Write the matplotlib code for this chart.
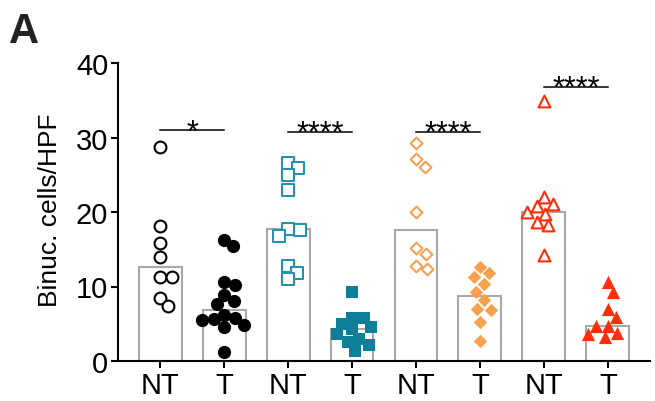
import numpy as np
import matplotlib
matplotlib.use("Agg")
import matplotlib.pyplot as plt

plt.rcParams['font.family'] = ['Liberation Sans', 'DejaVu Sans']

# ===== DATA =====
tick_labels = ["NT", "T", "NT", "T", "NT", "T", "NT", "T"]

g1_nt = [28.7, 18.1, 15.9, 14.0, 11.3, 11.3, 8.5, 7.4]
g1_t = [16.3, 15.4, 10.6, 10.2, 8.8, 8.1, 7.6, 6.2, 5.8, 5.6, 5.5, 4.8, 4.6, 1.2]
g2_nt = [26.6, 25.9, 24.9, 23.0, 17.75, 17.6, 16.75, 12.8, 11.85, 10.95]
g2_t = [9.3, 5.8, 5.8, 5.0, 4.6, 4.25, 3.6, 3.0, 2.6, 2.2, 1.4]
g3_nt = [29.2, 27.1, 26.1, 20.0, 15.2, 14.4, 12.7, 12.4]
g3_t = [12.65, 11.75, 11.3, 10.4, 9.25, 8.2, 7.0, 6.9, 5.2, 2.7]
g4_nt = [34.9, 22.0, 21.1, 20.8, 20.0, 19.75, 18.6, 18.2, 14.2]
g4_t = [10.6, 9.2, 7.0, 5.9, 4.7, 4.7, 3.8, 3.6, 3.2]

groups = [g1_nt, g1_t, g2_nt, g2_t, g3_nt, g3_t, g4_nt, g4_t]

sig_pairs = [(0, 1), (2, 3), (4, 5), (6, 7)]
sig_y = [31.0, 30.8, 30.8, 36.8]
sig_text = ["*", "****", "****", "****"]

# ===== STYLE =====
colors = ["black", "black", "#2493AD", "#0E7F99",
          "#F9A04E", "#F9A04E", "#FF2D0A", "#FF2D0A"]
markers = ["o", "o", "s", "s", "D", "D", "^", "^"]
sizes = [8.5, 9.5, 8.0, 9.0, 6.0, 6.8, 8.5, 9.5]
filled = [False, True, False, True, False, True, False, True]


def swarm_offsets(values, ax, diam_px):
    # simple beeswarm in pixel space, returned in data units
    vals = np.asarray(values, dtype=float)
    ys = ax.transData.transform(np.column_stack([np.zeros(len(vals)), vals]))[:, 1]
    px_per_unit = ax.transData.transform((1, 0))[0] - ax.transData.transform((0, 0))[0]
    xs = np.zeros(len(vals))
    placed = []
    for i in np.argsort(-ys):
        y = ys[i]
        cands = [0.0]
        for px, py in placed:
            dy = y - py
            if abs(dy) < diam_px:
                dx = np.sqrt(diam_px ** 2 - dy ** 2)
                cands += [px + dx, px - dx]
        cands.sort(key=abs)
        for c in cands:
            if all((c - px) ** 2 + (y - py) ** 2 >= diam_px ** 2 - 1e-6 for px, py in placed):
                xs[i] = c
                break
        placed.append((xs[i], y))
    return xs / px_per_unit


fig = plt.figure(figsize=(6.55, 4.02), dpi=100)
ax = fig.add_axes([118 / 655, 40 / 402, (650 - 118) / 655, (362 - 64) / 402])
ax.set_xlim(-0.66, 7.66)
ax.set_ylim(0, 40)

x = np.arange(len(groups))

# median bars
medians = [np.median(g) for g in groups]
ax.bar(x, medians, width=0.67, color="white", edgecolor="#A8A8A8",
       linewidth=1.5, zorder=1)

# points
for i, g in enumerate(groups):
    offs = swarm_offsets(g, ax, 11.5)
    if filled[i]:
        ax.scatter(x[i] + offs, g, s=sizes[i] ** 2, marker=markers[i],
                   color=colors[i], linewidths=0, zorder=3, clip_on=False)
    else:
        ax.scatter(x[i] + offs, g, s=sizes[i] ** 2, marker=markers[i],
                   facecolors="white", edgecolors=colors[i], linewidths=1.5,
                   zorder=3, clip_on=False)

# significance lines
for (a, b), yy, txt in zip(sig_pairs, sig_y, sig_text):
    ax.plot([a, b], [yy, yy], color="black", linewidth=1.1, zorder=4)
    ax.annotate(txt, xy=((a + b) / 2, yy), xytext=(0, -7.5),
                textcoords="offset points", ha="center", va="baseline",
                fontsize=22)

# axes styling
for side in ["top", "right"]:
    ax.spines[side].set_visible(False)
ax.spines["left"].set_linewidth(1.5)
ax.spines["bottom"].set_linewidth(1.5)
ax.spines["left"].set_bounds(0, 40)

ax.set_yticks([0, 10, 20, 30, 40])
ax.set_xticks(x)
ax.set_xticklabels(tick_labels)
ax.tick_params(axis="both", width=1.5, length=5, labelsize=21, pad=2)

fig.text(50 / 655, 1 - 210 / 402, "Binuc. cells/HPF", rotation=90,
         ha="center", va="center", fontsize=19)
fig.text(9 / 655, 1 - 43 / 402, "A", fontsize=30, fontweight="bold",
         ha="left", va="baseline", color="#222222")

fig.savefig("out.png", dpi=100)
